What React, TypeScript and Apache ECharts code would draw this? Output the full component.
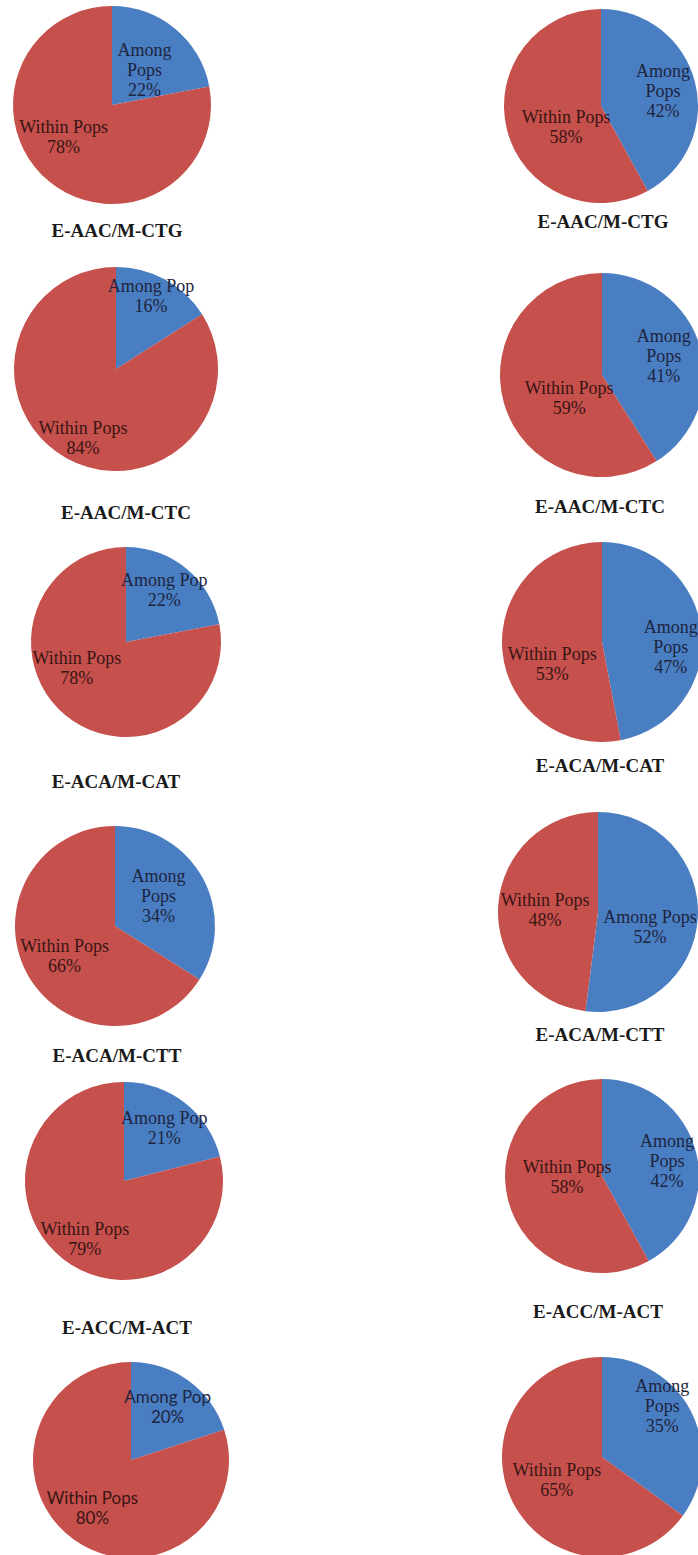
import React, { useEffect, useRef } from "react";
import * as echarts from "echarts";

// Marker-combination captions (one per pie; the last row has none)
const captions: (string | null)[] = [
  "E-AAC/M-CTG", "E-AAC/M-CTG",
  "E-AAC/M-CTC", "E-AAC/M-CTC",
  "E-ACA/M-CAT", "E-ACA/M-CAT",
  "E-ACA/M-CTT", "E-ACA/M-CTT",
  "E-ACC/M-ACT", "E-ACC/M-ACT",
  null, null,
];

// Variance components (%)
const amongValues = [22, 42, 16, 41, 22, 47, 34, 52, 21, 42, 20, 35];
const withinValues = [78, 58, 84, 59, 78, 53, 66, 48, 79, 58, 80, 65];

// Text shown for the "among" slice of each pie
const amongNames = [
  "Among\nPops", "Among\nPops",
  "Among Pop", "Among\nPops",
  "Among Pop", "Among\nPops",
  "Among\nPops", "Among Pops",
  "Among Pop", "Among\nPops",
  "Among Pop", "Among\nPops",
];
const withinName = "Within Pops";

// Pie placement: centre x, centre y, radius, caption position
const pieLayout = [
  { cx: 112, cy: 105, r: 99, capX: 117, capY: 230 },
  { cx: 601, cy: 106, r: 97, capX: 603, capY: 221 },
  { cx: 116, cy: 369, r: 102, capX: 126, capY: 512 },
  { cx: 602, cy: 375, r: 102, capX: 600, capY: 506 },
  { cx: 126, cy: 642, r: 95, capX: 116, capY: 781 },
  { cx: 602, cy: 642, r: 100, capX: 600, capY: 765 },
  { cx: 115, cy: 926, r: 100, capX: 117, capY: 1055 },
  { cx: 598, cy: 912, r: 100, capX: 600, capY: 1034 },
  { cx: 124, cy: 1181, r: 99, capX: 127, capY: 1327 },
  { cx: 602, cy: 1176, r: 97, capX: 598, capY: 1311 },
  { cx: 131, cy: 1460, r: 98, capX: 0, capY: 0 },
  { cx: 602, cy: 1457, r: 100, capX: 0, capY: 0 },
];

// Label nudges from the default inside position: [among, within]
const labelNudge: [number, number][][] = [
  [[-1, 5], [-15, -8]],
  [[12, -2], [15, 8]],
  [[9, -26], [-7, 22]],
  [[10, -4], [19, 8]],
  [[6, -13], [-17, -13]],
  [[16, 10], [3, 17]],
  [[-3, -4], [-4, 4]],
  [[-1, 12], [0, 1]],
  [[8, -12], [-7, 17]],
  [[15, -2], [15, -12]],
  [[6, -11], [-8, 5]],
  [[13, -27], [2, -1]],
];

const BLUE = "#4A7EC2";
const RED = "#C6504C";

export default function App() {
  const ref = useRef<HTMLDivElement>(null);

  useEffect(() => {
    if (!ref.current) return;
    const chart = echarts.init(ref.current, null, { renderer: "svg" });

    const series = pieLayout.map((p, i) => {
      const sans = i === 10;
      const fontFamily = sans
        ? "Lato, 'Liberation Sans', sans-serif"
        : "'Liberation Serif', 'Times New Roman', serif";
      const baseLabel = {
        show: true,
        position: "inside",
        fontFamily,
        fontSize: sans ? 17 : 18,
        lineHeight: 20,
        align: "center",
      };
      return {
        type: "pie",
        center: [p.cx, p.cy],
        radius: [0, p.r],
        startAngle: 90,
        clockwise: true,
        silent: true,
        labelLine: { show: false },
        emphasis: { disabled: true },
        itemStyle: { borderWidth: 0 },
        label: { ...baseLabel, formatter: (d: any) => `${d.name}\n${d.value}%` },
        data: [
          {
            name: amongNames[i],
            value: amongValues[i],
            itemStyle: { color: BLUE },
            label: { ...baseLabel, color: "#1d2540", offset: labelNudge[i][0] },
          },
          {
            name: withinName,
            value: withinValues[i],
            itemStyle: { color: RED },
            label: { ...baseLabel, color: "#3a1515", offset: labelNudge[i][1] },
          },
        ],
      };
    });

    const graphic = pieLayout
      .map((p, i) =>
        captions[i]
          ? {
              type: "text",
              x: p.capX,
              y: p.capY,
              style: {
                text: captions[i],
                fill: "#1a1a1a",
                font: "bold 19px 'Liberation Serif', 'Times New Roman', serif",
                textAlign: "center",
                textVerticalAlign: "middle",
              },
            }
          : null
      )
      .filter(Boolean);

    chart.setOption({
      animation: false,
      backgroundColor: "#ffffff",
      series,
      graphic,
    });

    return () => chart.dispose();
  }, []);

  return (
    <div
      ref={ref}
      style={{ position: "absolute", left: 0, top: 0, width: 698, height: 1555 }}
    />
  );
}
